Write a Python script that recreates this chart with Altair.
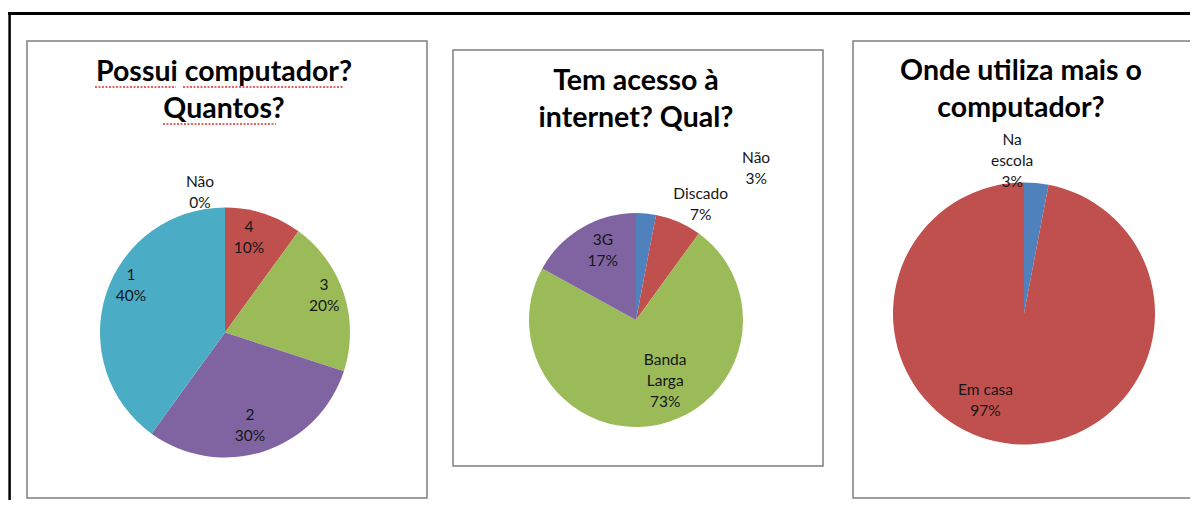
import math
import altair as alt
import pandas as pd

# ---------------- data ----------------
p1_cat = ["Não", "4", "3", "2", "1"]
p1_lab = ["Não", "4", "3", "2", "1"]
p1_val = [0, 10, 20, 30, 40]

p2_cat = ["Não", "Discado", "Banda Larga", "3G"]
p2_lab = ["Não", "Discado", "Banda\nLarga", "3G"]
p2_val = [3, 7, 73, 17]

p3_cat = ["Na escola", "Em casa"]
p3_lab = ["Na\nescola", "Em casa"]
p3_val = [3, 97]

titles = [
    ["Possui computador?", "Quantos?"],
    ["Tem acesso à", "internet? Qual?"],
    ["Onde utiliza mais o", "computador?"],
]

palette = ["#4F81BD", "#C0504D", "#9BBB59", "#8064A2", "#4BACC6"]

OFF = 8  # page margin
LH = 21  # label line height


def table(cats, labs, vals):
    return pd.DataFrame({"cat": cats, "lab": labs, "valor": vals,
                         "ordem": list(range(len(cats)))})


theta_scale = alt.Scale(domain=[0, 100], range=[0, 2 * math.pi])
color = alt.Color("ordem:N", scale=alt.Scale(domain=[0, 1, 2, 3, 4], range=palette),
                  legend=None)

one = pd.DataFrame({"k": [0]})

FONT = "Lato"


def pie(df, cx, cy, r, labels):
    cx -= OFF
    cy -= OFF
    base = (alt.Chart(df)
            .transform_stack(stack="valor", groupby=[], as_=["t0", "t1"],
                             sort=[alt.SortField("ordem", order="ascending")])
            .transform_calculate(mid="(datum.t0 + datum.t1) / 2",
                                 texto="datum.lab + '\\n' + datum.valor + '%'"))
    arcs = base.mark_arc(radius=r, stroke=None).encode(
        theta=alt.Theta("t0:Q", scale=theta_scale, stack=False),
        theta2="t1:Q",
        color=color,
        x=alt.value(cx), y=alt.value(cy),
    )
    layers = [arcs]
    lab_of = dict(zip(df["cat"], df["lab"]))
    for cat, (rad, dx, dy) in labels.items():
        nlines = lab_of[cat].count("\n") + 2
        layers.append(
            base.transform_filter(alt.datum.cat == cat)
            .mark_text(radius=rad, dx=dx, dy=dy - (nlines - 1) * LH / 2,
                       lineBreak="\n", lineHeight=LH,
                       font=FONT, fontSize=15.5, color="#161616",
                       align="center", baseline="middle")
            .encode(theta=alt.Theta("mid:Q", scale=theta_scale),
                    text="texto:N", x=alt.value(cx), y=alt.value(cy))
        )
    return layers


def box(x0, y0, x1, y1):
    return alt.Chart(one).mark_rect(fill="white", stroke="#7f7f7f", strokeWidth=1.5).encode(
        x=alt.value(x0 - OFF), x2=alt.value(x1 - OFF),
        y=alt.value(y0 - OFF), y2=alt.value(y1 - OFF))


def title(lines, cx, base_y):
    return alt.Chart(one).mark_text(
        text=lines, font=FONT, fontSize=28.5, fontWeight="bold", color="#000000",
        lineHeight=37, align="center", baseline="alphabetic").encode(
        x=alt.value(cx - OFF), y=alt.value(base_y - OFF))


def squiggle(x0, x1, y):
    # spell-check underline seen under the first title
    return alt.Chart(one).mark_rule(color="#e03030", strokeWidth=1.3,
                                    strokeDash=[2, 1.5]).encode(
        x=alt.value(x0 - OFF), x2=alt.value(x1 - OFF), y=alt.value(y - OFF))


frame_top = alt.Chart(one).mark_rule(color="#000000", strokeWidth=3).encode(
    x=alt.value(0), x2=alt.value(1182), y=alt.value(13.5 - OFF))
frame_left = alt.Chart(one).mark_rule(color="#000000", strokeWidth=2.5).encode(
    x=alt.value(9.6 - OFF), y=alt.value(12 - OFF), y2=alt.value(492))

layers = [frame_top, frame_left,
          box(27, 41, 427, 498), box(453, 50, 823, 466), box(853, 41, 1195, 498),
          title(titles[0], 224, 81), title(titles[1], 636, 90), title(titles[2], 1021, 80),
          squiggle(95, 176, 87), squiggle(183, 343, 87), squiggle(163, 276, 124)]

layers += pie(table(p1_cat, p1_lab, p1_val), 225, 332.5, 125, {
    "Não": (140, -25, 0),
    "4": (100, -7, 0),
    "3": (100, 4, -6),
    "2": (100, -6, -2),
    "1": (100, 1, -16),
})
layers += pie(table(p2_cat, p2_lab, p2_val), 636, 320, 107, {
    "Não": (150, 106, -2),
    "Discado": (125, 15, -1),
    "Banda Larga": (65, 15, -2),
    "3G": (77, 6, -3),
})
layers += pie(table(p3_cat, p3_lab, p3_val), 1024, 313.5, 131, {
    "Na escola": (150, -26, -3),
    "Em casa": (90, -30, -3),
})

chart = alt.layer(*layers).properties(
    width=1182, height=492, padding=0, autosize="none"
).configure_view(stroke=None)

chart.save("out.html", embed_options={"renderer": "svg", "actions": False})
